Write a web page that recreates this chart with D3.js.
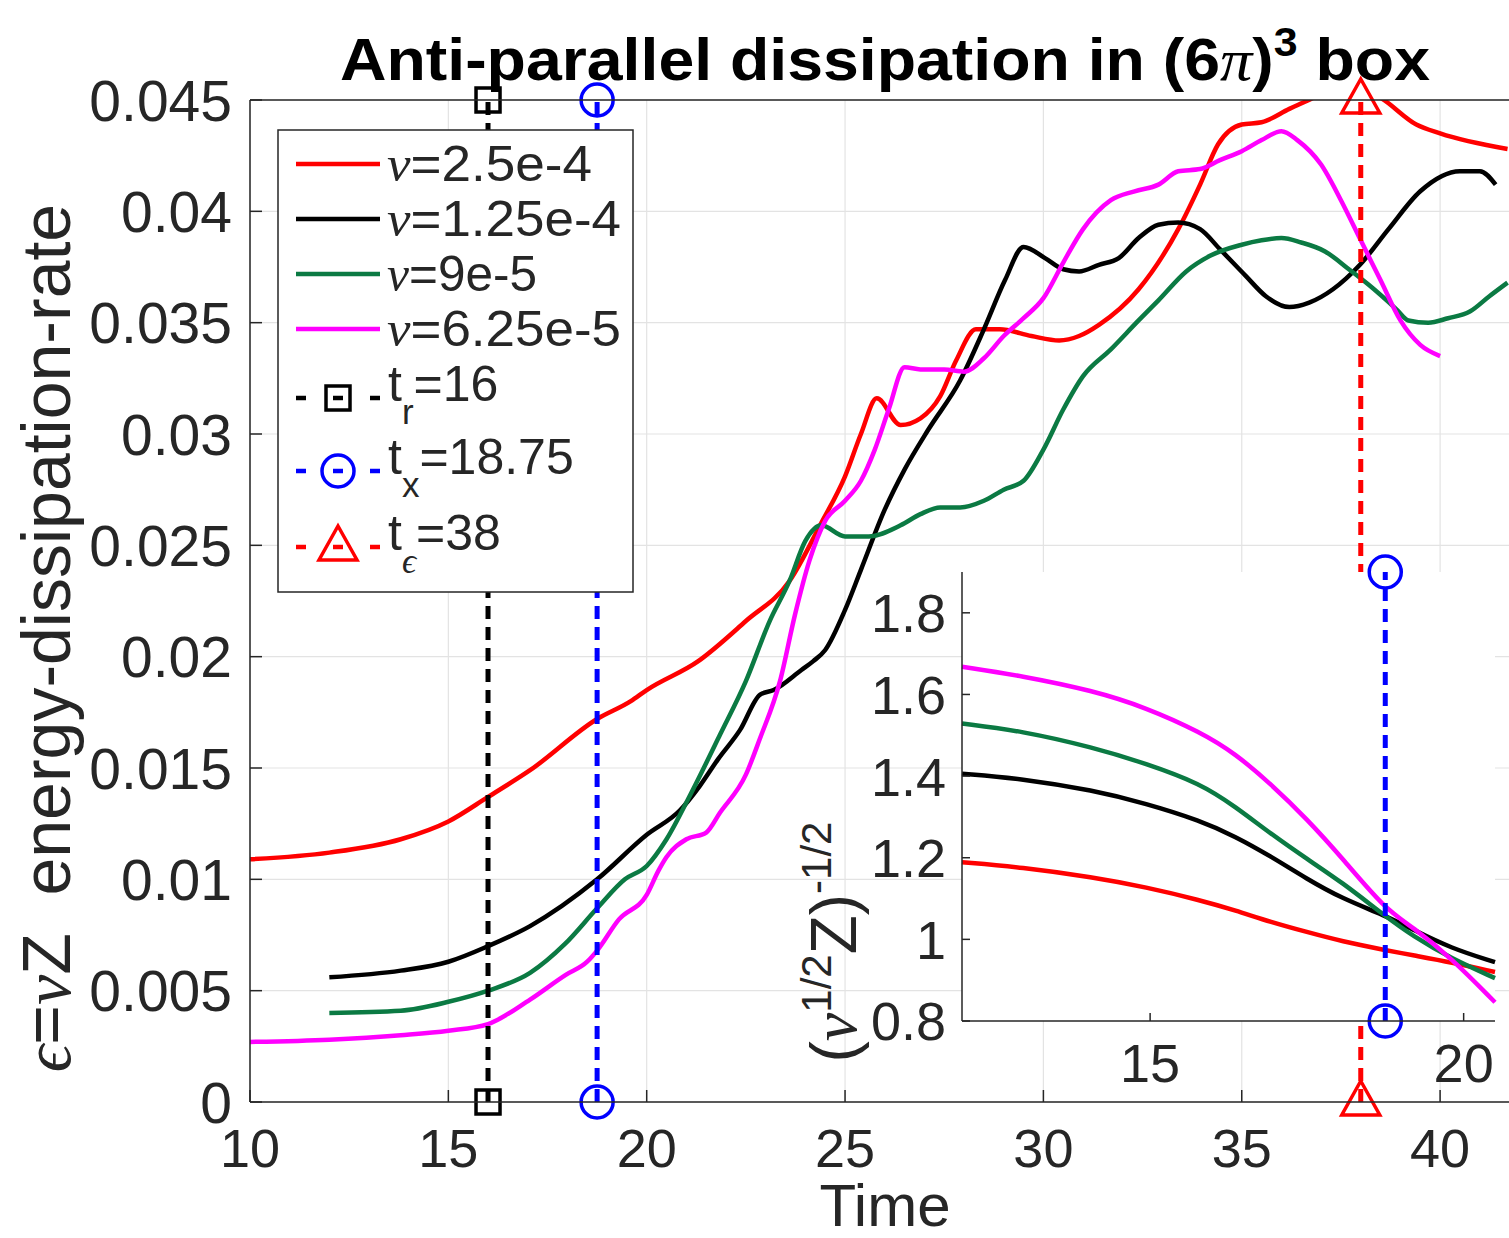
<!DOCTYPE html>
<html>
<head>
<meta charset="utf-8">
<script src="https://cdn.jsdelivr.net/npm/d3@7"></script>
<style>
  body { margin: 0; background: #fff; }
  text { font-family: "Liberation Sans", Arial, Helvetica, sans-serif; fill: #262626; }
  .sym { font-family: "Liberation Serif", "DejaVu Serif", serif; font-style: italic; }
</style>
</head>
<body>
<svg id="chart" width="1509" height="1238"></svg>
<script>
// ---- Main panel: dissipation rate eps = nu*Z versus time ----
const timeNu250 = [10,12,13.8,15,16,17.06,18.75,19.6,20,21.3,22.5,23.6,24.4,25,25.4,25.8,26.4,26.9,27.4,27.8,28.3,28.9,29.7,30.4,30.9,31.4,32.4,33.4,33.95,34.4,35,35.5,36.2,36.8,37.5,38.5,39.4,40,41.7];
const epsNu250  = [0.0109,0.0112,0.0118,0.0126,0.0137,0.0149,0.0172,0.0180,0.0185,0.0198,0.0216,0.0234,0.0260,0.0281,0.0300,0.0316,0.0304,0.0307,0.0317,0.0333,0.0347,0.0347,0.0344,0.0342,0.0344,0.0349,0.0365,0.0392,0.0412,0.0430,0.0439,0.0440,0.0446,0.0451,0.0458,0.0451,0.0439,0.0435,0.0428];

const timeNu125 = [12,13.8,15,16,17.06,18.75,20,20.84,21.34,21.8,22.35,22.86,23.2,23.9,24.2,24.5,25,25.4,26,26.5,27.1,27.9,28.5,29.03,29.5,30.04,30.5,30.9,31.4,31.9,32.4,32.9,33.4,33.95,34.45,35.1,35.6,36.2,36.7,37.3,37.98,38.7,39.5,40.5,41,41.4];
const epsNu125  = [0.0056,0.0059,0.0063,0.0070,0.0079,0.0100,0.0120,0.0131,0.0142,0.0154,0.0167,0.0183,0.0185,0.0194,0.0198,0.0203,0.0221,0.0239,0.0266,0.0284,0.0302,0.0324,0.0347,0.0369,0.0384,0.0379,0.0374,0.0373,0.0376,0.0379,0.0388,0.0394,0.0395,0.0392,0.0383,0.0371,0.0362,0.0357,0.0359,0.0365,0.0376,0.0392,0.0409,0.0418,0.0418,0.0412];

const timeNu90 = [12,13.8,15,16,17.06,17.94,18.75,19.45,20,20.5,21.1,21.85,22.5,23.1,23.6,24,24.4,25,25.6,26.4,26.9,27.4,27.9,28.5,29,29.5,30,30.5,31,31.7,32.4,32.9,33.6,34.2,35,35.5,36,36.5,37.1,37.7,38.2,38.9,39.2,39.7,40.2,40.75,41.25,41.7];
const epsNu90  = [0.0040,0.0041,0.0045,0.0050,0.0058,0.0071,0.0087,0.0100,0.0106,0.0118,0.0138,0.0165,0.0189,0.0216,0.0234,0.0252,0.0259,0.0254,0.0254,0.0259,0.0264,0.0267,0.0267,0.0270,0.0275,0.0279,0.0293,0.0311,0.0326,0.0338,0.0351,0.0360,0.0373,0.0380,0.0385,0.0387,0.0388,0.0386,0.0382,0.0374,0.0367,0.0356,0.0351,0.0350,0.0352,0.0355,0.0362,0.0368];

const timeNu625 = [10,12,13.8,15,16,17.06,17.95,18.5,18.75,19.3,20,20.3,20.5,21,21.5,21.85,22.5,22.85,23.36,23.74,24.1,24.5,25,25.4,25.75,26.1,26.5,26.9,27.5,28,28.5,29,29.5,30,30.5,31,31.7,32.3,32.9,33.4,33.95,34.45,35,35.5,36,36.4,37,37.5,38,38.5,39,39.5,40];
const epsNu625  = [0.0027,0.0028,0.0030,0.0032,0.0035,0.0046,0.0057,0.0063,0.0068,0.0082,0.0093,0.0104,0.0110,0.0118,0.0121,0.0130,0.0147,0.0163,0.0189,0.0219,0.0243,0.0261,0.0270,0.0279,0.0293,0.0311,0.0330,0.0329,0.0329,0.0328,0.0334,0.0344,0.0352,0.0361,0.0377,0.0392,0.0405,0.0409,0.0412,0.0418,0.0419,0.0423,0.0427,0.0432,0.0436,0.0432,0.0421,0.0405,0.0387,0.0369,0.0351,0.0340,0.0335];

// ---- Inset: (nu^{1/2} Z)^{-1/2} versus time ----
const insetTime = [12,12.94,14.1,14.93,15.8,16.36,16.93,17.5,18.06,18.74,19.19,19.8,20.5];
const insetNu250 = [1.189,1.177,1.152,1.128,1.096,1.071,1.042,1.018,0.995,0.974,0.961,0.944,0.920];
const insetNu125 = [1.406,1.394,1.365,1.333,1.291,1.252,1.203,1.148,1.100,1.059,1.024,0.978,0.944];
const insetNu90  = [1.529,1.511,1.470,1.431,1.382,1.325,1.258,1.197,1.140,1.058,1.008,0.953,0.905];
const insetNu625 = [1.668,1.646,1.609,1.568,1.508,1.455,1.380,1.295,1.200,1.075,1.030,0.955,0.846];

// ---- Characteristic times ----
const tReconnect = 16;
const tCross = 18.75;
const tEps = 38;

// ---- Axis ticks ----
const mainXTicks = [10,15,20,25,30,35,40];
const mainYTicks = [0,0.005,0.01,0.015,0.02,0.025,0.03,0.035,0.04,0.045];
const mainYTickLabels = ["0","0.005","0.01","0.015","0.02","0.025","0.03","0.035","0.04","0.045"];
const insetXTicks = [15,20];
const insetYTicks = [0.8,1,1.2,1.4,1.6,1.8];
const insetYTickLabels = ["0.8","1","1.2","1.4","1.6","1.8"];

// ---- Legend entries ----
const nuLabels = ["2.5e-4","1.25e-4","9e-5","6.25e-5"];
const seriesColors = ["#ff0000","#000000","#0b7a43","#ff00ff"];

const svg = d3.select("#chart");
const axisColor = "#262626";
const gridColor = "#e3e3e3";

// Main scales
const x = d3.scaleLinear().domain([10, 42]).range([250, 250 + 32 * 39.67]);
const y = d3.scaleLinear().domain([0, 0.045]).range([1102, 100]);

svg.append("defs").append("clipPath").attr("id", "mainClip")
  .append("rect").attr("x", 250).attr("y", 100).attr("width", 1509 - 250).attr("height", 1002);

// Grid
const grid = svg.append("g");
grid.selectAll(".gx").data(mainXTicks).join("line")
  .attr("x1", d => x(d)).attr("x2", d => x(d)).attr("y1", y(0)).attr("y2", y(0.045))
  .attr("stroke", gridColor).attr("stroke-width", 1.2);
grid.selectAll(".gy").data(mainYTicks).join("line")
  .attr("x1", 250).attr("x2", 1509).attr("y1", d => y(d)).attr("y2", d => y(d))
  .attr("stroke", gridColor).attr("stroke-width", 1.2);

// Curves
const mainSeries = [
  [timeNu250, epsNu250], [timeNu125, epsNu125], [timeNu90, epsNu90], [timeNu625, epsNu625]
];
const line = d3.line().x(d => x(d[0])).y(d => y(d[1])).curve(d3.curveMonotoneX);
const curves = svg.append("g").attr("clip-path", "url(#mainClip)");
mainSeries.forEach((s, i) => {
  const pts = s[0].map((t, k) => [t, s[1][k]]);
  curves.append("path").datum(pts).attr("d", line)
    .attr("fill", "none").attr("stroke", seriesColors[i]).attr("stroke-width", 4.5)
    .attr("stroke-linejoin", "round");
});

// Marker drawing
function marker(g, type, cx, cy, color) {
  if (type === "square") {
    g.append("rect").attr("x", cx - 12).attr("y", cy - 12).attr("width", 24).attr("height", 24)
      .attr("fill", "none").attr("stroke", color).attr("stroke-width", 3.5);
  } else if (type === "circle") {
    g.append("circle").attr("cx", cx).attr("cy", cy).attr("r", 16)
      .attr("fill", "none").attr("stroke", color).attr("stroke-width", 3.5);
  } else {
    g.append("path").attr("d", `M${cx},${cy - 21}L${cx + 19},${cy + 13}L${cx - 19},${cy + 13}Z`)
      .attr("fill", "none").attr("stroke", color).attr("stroke-width", 3.5).attr("stroke-linejoin", "miter");
  }
}

// Vertical time markers in the main panel
const timeMarks = [
  { t: tReconnect, color: "#000000", type: "square" },
  { t: tCross, color: "#0000ff", type: "circle" },
  { t: tEps, color: "#ff0000", type: "triangle" }
];
const marks = svg.append("g");
timeMarks.forEach(m => {
  marks.append("line").attr("x1", x(m.t)).attr("x2", x(m.t)).attr("y1", y(0)).attr("y2", y(0.045))
    .attr("stroke", m.color).attr("stroke-width", 5).attr("stroke-dasharray", "13,8");
  marker(marks, m.type, x(m.t), y(0.045), m.color);
  marker(marks, m.type, x(m.t), y(0), m.color);
});

// Axes lines
const ax = svg.append("g");
ax.append("line").attr("x1", 250).attr("x2", 250).attr("y1", 100).attr("y2", 1102).attr("stroke", axisColor).attr("stroke-width", 1.5);
ax.append("line").attr("x1", 250).attr("x2", 1509).attr("y1", 1102).attr("y2", 1102).attr("stroke", axisColor).attr("stroke-width", 1.5);
ax.append("line").attr("x1", 250).attr("x2", 1509).attr("y1", 100).attr("y2", 100).attr("stroke", axisColor).attr("stroke-width", 1.5);
ax.selectAll(".tx").data(mainXTicks).join("line")
  .attr("x1", d => x(d)).attr("x2", d => x(d)).attr("y1", 1102).attr("y2", 1090).attr("stroke", axisColor).attr("stroke-width", 1.5);
ax.selectAll(".ty").data(mainYTicks).join("line")
  .attr("x1", 250).attr("x2", 262).attr("y1", d => y(d)).attr("y2", d => y(d)).attr("stroke", axisColor).attr("stroke-width", 1.5);
ax.selectAll(".lx").data(mainXTicks).join("text")
  .attr("x", d => x(d)).attr("y", 1167).attr("text-anchor", "middle").attr("font-size", 54).text(d => d);
ax.selectAll(".ly").data(mainYTicks).join("text")
  .attr("x", 232).attr("y", d => y(d)).attr("dy", "0.36em").attr("text-anchor", "end").attr("font-size", 57)
  .text((d, i) => mainYTickLabels[i]);

// Axis titles
svg.append("text").attr("x", 885).attr("y", 1226).attr("text-anchor", "middle").attr("font-size", 60).text("Time");
const yl = svg.append("text").attr("transform", "translate(70,638) rotate(-90)").attr("text-anchor", "middle").attr("font-size", 68);
yl.append("tspan").attr("class", "sym").text("\u03f5");
yl.append("tspan").text("=");
yl.append("tspan").attr("class", "sym").text("\u03bd");
yl.append("tspan").text("Z\u00a0 energy-dissipation-rate");

// Title
const title = svg.append("text").attr("x", 885).attr("y", 80).attr("text-anchor", "middle")
  .attr("font-size", 60).attr("font-weight", "bold").style("fill", "#000")
  .attr("textLength", 1090).attr("lengthAdjust", "spacingAndGlyphs");
title.append("tspan").text("Anti-parallel dissipation in (6");
title.append("tspan").attr("class", "sym").attr("font-weight", "normal").text("\u03c0");
title.append("tspan").text(")");
title.append("tspan").attr("font-size", 40).attr("dy", -24).text("3");
title.append("tspan").attr("dy", 24).text(" box");

// Legend
const lg = svg.append("g");
lg.append("rect").attr("x", 278).attr("y", 130).attr("width", 355).attr("height", 462)
  .attr("fill", "#fff").attr("stroke", axisColor).attr("stroke-width", 1.5);
const lineRows = [164, 219, 274, 329];
nuLabels.forEach((lab, i) => {
  lg.append("line").attr("x1", 296).attr("x2", 380).attr("y1", lineRows[i]).attr("y2", lineRows[i])
    .attr("stroke", seriesColors[i]).attr("stroke-width", 4.5);
  const t = lg.append("text").attr("x", 387).attr("y", lineRows[i] + 17).attr("font-size", 50)
    .attr("textLength", [205, 234, 150, 234][i]).attr("lengthAdjust", "spacingAndGlyphs");
  t.append("tspan").attr("class", "sym").text("\u03bd");
  t.append("tspan").text("=" + lab);
});
const markRows = [
  { yc: 398, sub: "r", subSym: false, val: "=16" },
  { yc: 471, sub: "x", subSym: false, val: "=18.75" },
  { yc: 547, sub: "\u03f5", subSym: true, val: "=38" }
];
markRows.forEach((r, i) => {
  const m = timeMarks[i];
  [[296, 306], [333, 343], [370, 380]].forEach(seg => {
    lg.append("line").attr("x1", seg[0]).attr("x2", seg[1]).attr("y1", r.yc).attr("y2", r.yc)
      .attr("stroke", m.color).attr("stroke-width", 4.5);
  });
  marker(lg, m.type, 338, r.yc, m.color);
  const t = lg.append("text").attr("x", 388).attr("y", r.yc + 3).attr("font-size", 50);
  t.append("tspan").text("t");
  t.append("tspan").attr("dy", 23).attr("font-size", 35).attr("class", r.subSym ? "sym" : null).text(r.sub);
  t.append("tspan").attr("dy", -23).text(r.val);
});

// ---- Inset ----
const ix = d3.scaleLinear().domain([12, 20.5]).range([962, 1495]);
const iy = d3.scaleLinear().domain([0.8, 1.9]).range([1021, 572]);
const inset = svg.append("g");
inset.append("rect").attr("x", 962).attr("y", 572).attr("width", 1495 - 962).attr("height", 1021 - 572).attr("fill", "#fff");
const insetSeries = [insetNu250, insetNu125, insetNu90, insetNu625];
const iline = d3.line().x(d => ix(d[0])).y(d => iy(d[1])).curve(d3.curveBasis);
insetSeries.forEach((s, i) => {
  inset.append("path").datum(insetTime.map((t, k) => [t, s[k]])).attr("d", iline)
    .attr("fill", "none").attr("stroke", seriesColors[i]).attr("stroke-width", 4.5);
});
inset.append("line").attr("x1", ix(tCross)).attr("x2", ix(tCross)).attr("y1", iy(0.8)).attr("y2", iy(1.9))
  .attr("stroke", "#0000ff").attr("stroke-width", 5).attr("stroke-dasharray", "13,8");
marker(inset, "circle", ix(tCross), iy(1.9), "#0000ff");
marker(inset, "circle", ix(tCross), iy(0.8), "#0000ff");
inset.append("line").attr("x1", 962).attr("x2", 962).attr("y1", 572).attr("y2", 1021).attr("stroke", axisColor).attr("stroke-width", 1.5);
inset.append("line").attr("x1", 962).attr("x2", 1495).attr("y1", 1021).attr("y2", 1021).attr("stroke", axisColor).attr("stroke-width", 1.5);
inset.selectAll(".itx").data(insetXTicks).join("line")
  .attr("x1", d => ix(d)).attr("x2", d => ix(d)).attr("y1", 1021).attr("y2", 1013).attr("stroke", axisColor).attr("stroke-width", 1.5);
inset.selectAll(".ity").data(insetYTicks).join("line")
  .attr("x1", 962).attr("x2", 970).attr("y1", d => iy(d)).attr("y2", d => iy(d)).attr("stroke", axisColor).attr("stroke-width", 1.5);
inset.selectAll(".ilx").data(insetXTicks).join("text")
  .attr("x", d => ix(d)).attr("y", 1082).attr("text-anchor", "middle").attr("font-size", 54).text(d => d);
inset.selectAll(".ily").data(insetYTicks).join("text")
  .attr("x", 946).attr("y", d => iy(d)).attr("dy", "0.36em").attr("text-anchor", "end").attr("font-size", 54)
  .text((d, i) => insetYTickLabels[i]);
const il = inset.append("text").attr("transform", "translate(856,942) rotate(-90)").attr("text-anchor", "middle").attr("font-size", 64);
il.append("tspan").text("(");
il.append("tspan").attr("class", "sym").text("\u03bd");
il.append("tspan").attr("font-size", 42).attr("dy", -25).text("1/2");
il.append("tspan").attr("dy", 25).text("Z)");
il.append("tspan").attr("font-size", 42).attr("dy", -25).text("-1/2");
</script>
</body>
</html>
